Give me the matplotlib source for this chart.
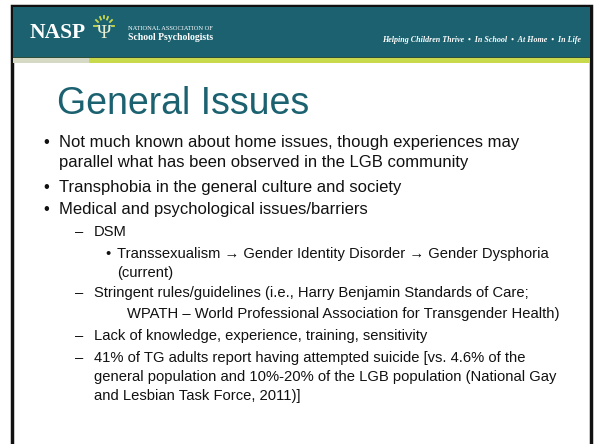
import matplotlib.pyplot as plt
from matplotlib.patches import Rectangle

# slide text
title = 'General Issues'
tagline = 'Helping Children Thrive  \u2022  In School  \u2022  At Home  \u2022  In Life'
org_small = 'NATIONAL ASSOCIATION OF'
org_big = 'School Psychologists'

# body lines: (level, marker, text)
body = [
    (1, '\u2022', 'Not much known about home issues, though experiences may'),
    (1, '', 'parallel what has been observed in the LGB community'),
    (1, '\u2022', 'Transphobia in the general culture and society'),
    (1, '\u2022', 'Medical and psychological issues/barriers'),
    (2, '\u2013', 'DSM'),
    (3, '\u2022', 'Transsexualism \u2192 Gender Identity Disorder \u2192 Gender Dysphoria'),
    (3, '', '(current)'),
    (2, '\u2013', 'Stringent rules/guidelines (i.e., Harry Benjamin Standards of Care;'),
    (2, '', '        WPATH \u2013 World Professional Association for Transgender Health)'),
    (2, '\u2013', 'Lack of knowledge, experience, training, sensitivity'),
    (2, '\u2013', '41% of TG adults report having attempted suicide [vs. 4.6% of the'),
    (2, '', 'general population and 10%-20% of the LGB population (National Gay'),
    (2, '', 'and Lesbian Task Force, 2011)]'),
]
body_y = [142, 162, 187, 209, 232, 254, 273, 293, 314, 336, 358, 377, 396]

marker_x = {1: 43, 2: 75, 3: 105}
text_x = {1: 59, 2: 94, 3: 117}
size = {1: 12.0, 2: 10.6, 3: 10.6}

teal = '#1b6170'
sans = ['Liberation Sans', 'DejaVu Sans']
serif = ['Liberation Serif', 'DejaVu Serif']

fig = plt.figure(figsize=(6, 4.44), dpi=100)
ax = fig.add_axes([0, 0, 1, 1])
ax.set_xlim(0, 600)
ax.set_ylim(444, 0)
ax.axis('off')

# frame and header band
ax.add_patch(Rectangle((11.5, 6), 579, 445, facecolor='white', edgecolor='#111111', lw=2.5))
ax.add_patch(Rectangle((13, 7.5), 576.5, 50, facecolor=teal, edgecolor='none'))
ax.add_patch(Rectangle((13, 57), 576.5, 1.5, facecolor='#2f4f3a', edgecolor='none'))
ax.add_patch(Rectangle((13, 58.5), 576.5, 4.5, facecolor='#c8d94c', edgecolor='none'))
ax.add_patch(Rectangle((13, 58.5), 76, 4.5, facecolor='#d6d9c4', edgecolor='none'))

# logo
ax.text(30, 38, 'NASP', color='white', fontsize=15.5, fontweight='bold',
        family=serif, va='baseline')
ax.text(104, 38, '\u03a8', color='#e8efd0', fontsize=14, family=serif,
        va='baseline', ha='center')
for dx, dy, ex, ey in [(-8, -8, -6, -6), (-4, -11, -3, -8.5), (0, -12, 0, -9.5),
                       (4, -11, 3, -8.5), (8, -8, 6, -6), (-10, -2, -7.5, -2),
                       (10, -2, 7.5, -2)]:
    ax.plot([104 + dx, 104 + ex], [28 + dy, 28 + ey], color='#c8d94c', lw=1.3)
ax.text(128, 30, org_small, color='white', fontsize=4.6, family=serif, va='baseline')
ax.text(128, 40, org_big, color='white', fontsize=7.0, fontweight='bold',
        family=serif, va='baseline')
ax.text(581, 42, tagline, color='white', fontsize=5.8, style='italic',
        fontweight='bold', family=serif, ha='right', va='baseline')

# title
ax.text(57, 104, title, color=teal, fontsize=27, family=sans, va='center')

# body text
for (lvl, mk, txt), y in zip(body, body_y):
    if mk:
        ax.text(marker_x[lvl], y, mk, fontsize=size[lvl], family=sans,
                color='#111111', va='center')
    ax.text(text_x[lvl], y, txt, fontsize=size[lvl], family=sans,
            color='#111111', va='center')

fig.savefig('out.png', dpi=100)
